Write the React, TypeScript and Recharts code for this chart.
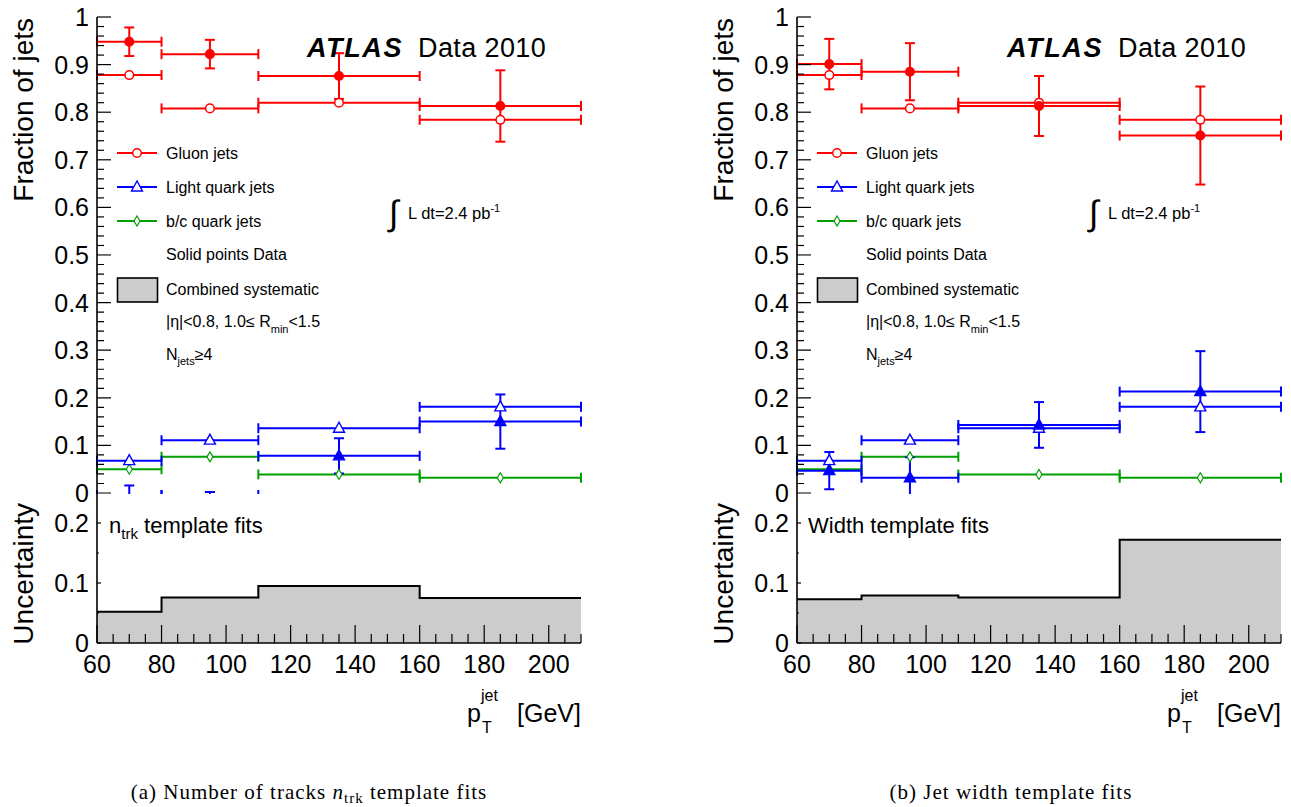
import React from "react";
import { ComposedChart, Scatter, ErrorBar, XAxis, YAxis, Area } from "recharts";

const SANS = "'Liberation Sans', Arial, Helvetica, sans-serif";
const SERIF = "'Liberation Serif', 'Times New Roman', serif";
const RED = "#ff0000";
const BLUE = "#0000ff";
const GREEN = "#00a000";
const GREY = "#cccccc";

// pT bins [GeV]
const binLow = [60, 80, 110, 160];
const binHigh = [80, 110, 160, 210];

// MC fractions (open markers), same for both fits
const gluonMC = [0.878, 0.808, 0.82, 0.784];
const lightMC = [0.068, 0.111, 0.136, 0.181];
const bcMC = [0.05, 0.076, 0.039, 0.032];

// (a) n_trk template fits, data
const ntrkGluon = [0.948, 0.922, 0.876, 0.813];
const ntrkGluonErr = [0.03, 0.03, 0.048, 0.075];
const ntrkLight = [-0.004, -0.004, 0.078, 0.15];
const ntrkLightErr = [0.02, 0.006, 0.037, 0.057];
const ntrkSyst = [0.052, 0.076, 0.095, 0.075];

// (b) width template fits, data
const widthGluon = [0.901, 0.885, 0.813, 0.751];
const widthGluonErr = [0.053, 0.06, 0.063, 0.103];
const widthLight = [0.047, 0.032, 0.143, 0.213];
const widthLightErr = [0.039, 0.043, 0.048, 0.085];
const widthSyst = [0.073, 0.079, 0.076, 0.172];

// axis ticks
const xMajor = [60, 80, 100, 120, 140, 160, 180, 200];
const xTicks = Array.from({ length: 31 }, (_, i) => 60 + 5 * i);
const fracMajor = [0, 0.1, 0.2, 0.3, 0.4, 0.5, 0.6, 0.7, 0.8, 0.9, 1];
const fracTicks = Array.from({ length: 51 }, (_, i) => (i * 2) / 100);
const uncMajor = [0, 0.1, 0.2];
const uncTicks = [0, 0.05, 0.1, 0.15, 0.2];

const frame = { stroke: "#000", strokeWidth: 1.6 };

function points(vals: number[], errs?: number[]) {
  return vals.map((v, i) => ({
    x: (binLow[i] + binHigh[i]) / 2,
    y: v,
    ex: (binHigh[i] - binLow[i]) / 2,
    ey: errs ? errs[i] : 0,
  }));
}

function systRows(vals: number[]) {
  return [...binLow, binHigh[binHigh.length - 1]].map((x, i) => ({
    x,
    u: vals[Math.min(i, vals.length - 1)],
  }));
}

// like ROOT: no marker for points below the frame
const hidden = (p: any) => p.payload && p.payload.y < 0;

// markers
const circle = (color: string, filled: boolean) => (p: any) =>
  hidden(p) ? <g /> : (
    <circle cx={p.cx} cy={p.cy} r={4.3} fill={filled ? color : "#fff"} stroke={color} strokeWidth={1.5} />
  );
const triangle = (color: string, filled: boolean) => (p: any) =>
  hidden(p) ? <g /> : (
    <polygon
      points={`${p.cx},${p.cy - 6} ${p.cx - 5.5},${p.cy + 4} ${p.cx + 5.5},${p.cy + 4}`}
      fill={filled ? color : "#fff"}
      stroke={color}
      strokeWidth={1.4}
    />
  );
const diamond = (color: string) => (p: any) => (
  <polygon
    points={`${p.cx},${p.cy - 5} ${p.cx + 3},${p.cy} ${p.cx},${p.cy + 5} ${p.cx - 3},${p.cy}`}
    fill="#fff"
    stroke={color}
    strokeWidth={1.2}
  />
);

type Side = "left" | "right" | "top" | "bottom";

// ROOT style ticks: drawn inwards, minor ones shorter
function tickRenderer(side: Side, majors: number[], majLen: number, minLen: number, labels: boolean) {
  return (props: any) => {
    const { x, y, payload } = props;
    const v: number = payload.value;
    const major = majors.some((m) => Math.abs(m - v) < 1e-6);
    const len = major ? majLen : minLen;
    let x2 = x;
    let y2 = y;
    if (side === "left") x2 = x + len;
    if (side === "right") x2 = x - len;
    if (side === "top") y2 = y + len;
    if (side === "bottom") y2 = y - len;
    return (
      <g>
        <line x1={x} y1={y} x2={x2} y2={y2} stroke="#000" strokeWidth={1.2} />
        {labels && major && side === "left" && (
          <text x={x - 8} y={y + 9} textAnchor="end" fontSize={25} fontFamily={SANS} fill="#000">
            {String(v)}
          </text>
        )}
        {labels && major && side === "bottom" && (
          <text x={x} y={y + 30} textAnchor="middle" fontSize={25} fontFamily={SANS} fill="#000">
            {String(v)}
          </text>
        )}
      </g>
    );
  };
}

interface PanelProps {
  left: number;
  gluon: number[];
  gluonErr: number[];
  light: number[];
  lightErr: number[];
  syst: number[];
}

// clip anything hanging below the frame, but keep the "0" label
const topClip = "polygon(0px 0px, 600px 0px, 600px 494px, 96px 494px, 96px 520px, 0px 520px)";

function Panel({ left, gluon, gluonErr, light, lightErr, syst }: PanelProps) {
  const axisCommon = { tickSize: 0, tickMargin: 0, tickLine: false, axisLine: frame, interval: 0 as const };
  return (
    <>
      <div style={{ position: "absolute", left, top: 0, clipPath: topClip }}>
        <ComposedChart width={600} height={520} margin={{ top: 17, right: 19, bottom: 27, left: 0 }}>
          <XAxis xAxisId="b" type="number" dataKey="x" domain={[60, 210]} allowDataOverflow ticks={xTicks}
            height={0} {...axisCommon} tick={tickRenderer("bottom", xMajor, 19, 9.5, false)} />
          <XAxis xAxisId="t" orientation="top" type="number" dataKey="x" domain={[60, 210]} allowDataOverflow
            ticks={xTicks} height={0} {...axisCommon} tick={tickRenderer("top", xMajor, 19, 9.5, false)} />
          <YAxis yAxisId="l" type="number" dataKey="y" domain={[0, 1]} allowDataOverflow ticks={fracTicks}
            width={97} {...axisCommon} tick={tickRenderer("left", fracMajor, 14, 7, true)} />
          <YAxis yAxisId="r" orientation="right" type="number" dataKey="y" domain={[0, 1]} allowDataOverflow
            ticks={fracTicks} width={0} {...axisCommon} tick={tickRenderer("right", fracMajor, 14, 7, false)} />

          <Scatter xAxisId="b" yAxisId="l" data={points(bcMC)} shape={diamond(GREEN)} isAnimationActive={false}>
            <ErrorBar dataKey="ex" direction="x" stroke={GREEN} strokeWidth={2} width={5} isAnimationActive={false} />
          </Scatter>
          <Scatter xAxisId="b" yAxisId="l" data={points(lightMC)} shape={triangle(BLUE, false)} isAnimationActive={false}>
            <ErrorBar dataKey="ex" direction="x" stroke={BLUE} strokeWidth={2} width={5} isAnimationActive={false} />
          </Scatter>
          <Scatter xAxisId="b" yAxisId="l" data={points(light, lightErr)} shape={triangle(BLUE, true)} isAnimationActive={false}>
            <ErrorBar dataKey="ex" direction="x" stroke={BLUE} strokeWidth={2} width={5} isAnimationActive={false} />
            <ErrorBar dataKey="ey" direction="y" stroke={BLUE} strokeWidth={2} width={5} isAnimationActive={false} />
          </Scatter>
          <Scatter xAxisId="b" yAxisId="l" data={points(gluonMC)} shape={circle(RED, false)} isAnimationActive={false}>
            <ErrorBar dataKey="ex" direction="x" stroke={RED} strokeWidth={2} width={5} isAnimationActive={false} />
          </Scatter>
          <Scatter xAxisId="b" yAxisId="l" data={points(gluon, gluonErr)} shape={circle(RED, true)} isAnimationActive={false}>
            <ErrorBar dataKey="ex" direction="x" stroke={RED} strokeWidth={2} width={5} isAnimationActive={false} />
            <ErrorBar dataKey="ey" direction="y" stroke={RED} strokeWidth={2} width={5} isAnimationActive={false} />
          </Scatter>
        </ComposedChart>
      </div>

      <div style={{ position: "absolute", left, top: 480 }}>
        <ComposedChart width={600} height={240} data={systRows(syst)} margin={{ top: 13, right: 19, bottom: 0, left: 0 }}>
          <Area xAxisId="b" yAxisId="l" type="stepAfter" dataKey="u" stroke="#000" strokeWidth={2}
            fill={GREY} fillOpacity={1} dot={false} activeDot={false} isAnimationActive={false} />
          <XAxis xAxisId="b" type="number" dataKey="x" domain={[60, 210]} allowDataOverflow ticks={xTicks}
            height={77} {...axisCommon} tick={tickRenderer("bottom", xMajor, 18, 9, true)} />
          <XAxis xAxisId="t" orientation="top" type="number" dataKey="x" domain={[60, 210]} allowDataOverflow
            ticks={xTicks} height={0} {...axisCommon} tick={tickRenderer("top", xMajor, 19, 10, false)} />
          <YAxis yAxisId="l" type="number" domain={[0, 0.25]} allowDataOverflow ticks={uncTicks}
            width={97} {...axisCommon} tick={tickRenderer("left", uncMajor, 4, 2, true)} />
          <YAxis yAxisId="r" orientation="right" type="number" domain={[0, 0.25]} allowDataOverflow
            ticks={uncTicks} width={0} {...axisCommon} tick={tickRenderer("right", uncMajor, 4, 2, false)} />
        </ComposedChart>
      </div>
    </>
  );
}

function Annotations({ left, fit }: { left: number; fit: "ntrk" | "width" }) {
  const legendRows = [
    { y: 153, label: "Gluon jets", color: RED, mark: circle(RED, false) },
    { y: 187, label: "Light quark jets", color: BLUE, mark: triangle(BLUE, false) },
    { y: 221, label: "b/c quark jets", color: GREEN, mark: diamond(GREEN) },
  ];
  return (
    <g transform={`translate(${left},0)`} fontFamily={SANS} fill="#000">
      <text transform="translate(33,18) rotate(-90)" textAnchor="end" fontSize={28}>Fraction of jets</text>
      <text transform="translate(33,503) rotate(-90)" textAnchor="end" fontSize={28}>Uncertainty</text>

      <text x={307} y={57} fontSize={27} fontWeight="bold" fontStyle="italic" letterSpacing={1.6}>ATLAS</text>
      <text x={418} y={57} fontSize={27} letterSpacing={0.4}>Data 2010</text>

      {legendRows.map((r) => (
        <g key={r.label}>
          <line x1={117} y1={r.y} x2={157} y2={r.y} stroke={r.color} strokeWidth={2} />
          {r.mark({ cx: 137, cy: r.y })}
          <text x={166} y={r.y + 5.5} fontSize={16}>{r.label}</text>
        </g>
      ))}
      <text x={166} y={260} fontSize={16}>Solid points Data</text>
      <rect x={117.5} y={278} width={40} height={24} fill={GREY} stroke="#000" strokeWidth={1.6} />
      <text x={166} y={294.5} fontSize={16}>Combined systematic</text>
      <text x={166} y={326.5} fontSize={16}>
        |η|&lt;0.8, 1.0≤ R<tspan fontSize={11} dy={6}>min</tspan><tspan dy={-6}>&lt;1.5</tspan>
      </text>
      <text x={166} y={360} fontSize={16}>
        N<tspan fontSize={11} dy={5}>jets</tspan><tspan dy={-5}>≥4</tspan>
      </text>

      <text x={389} y={225} fontSize={35}>∫</text>
      <text x={408} y={219} fontSize={16.5}>
        L dt=2.4 pb<tspan fontSize={11} dy={-7}>-1</tspan>
      </text>

      {fit === "ntrk" ? (
        <text x={109} y={533} fontSize={22}>
          n<tspan fontSize={15} dy={6}>trk</tspan><tspan dy={-6}> template fits</tspan>
        </text>
      ) : (
        <text x={108} y={533} fontSize={22}>Width template fits</text>
      )}

      <text x={467} y={722} fontSize={25}>p</text>
      <text x={481} y={701} fontSize={16}>jet</text>
      <text x={482} y={733} fontSize={16}>T</text>
      <text x={581} y={722} fontSize={25} textAnchor="end">[GeV]</text>
    </g>
  );
}

export default function App() {
  return (
    <div style={{ position: "absolute", left: 0, top: 0, width: 1291, height: 807, background: "#fff" }}>
      <Panel left={0} gluon={ntrkGluon} gluonErr={ntrkGluonErr} light={ntrkLight} lightErr={ntrkLightErr} syst={ntrkSyst} />
      <Panel left={700} gluon={widthGluon} gluonErr={widthGluonErr} light={widthLight} lightErr={widthLightErr} syst={widthSyst} />
      <svg width={1291} height={807} style={{ position: "absolute", left: 0, top: 0, pointerEvents: "none" }}>
        <Annotations left={0} fit="ntrk" />
        <Annotations left={700} fit="width" />
        <text x={309} y={799} textAnchor="middle" fontSize={21} letterSpacing={1} fontFamily={SERIF}>
          (a) Number of tracks <tspan fontStyle="italic">n</tspan>
          <tspan fontSize={15} dy={4}>trk</tspan>
          <tspan dy={-4}> template fits</tspan>
        </text>
        <text x={1011} y={799} textAnchor="middle" fontSize={21} letterSpacing={1} fontFamily={SERIF}>
          (b) Jet width template fits
        </text>
      </svg>
    </div>
  );
}
